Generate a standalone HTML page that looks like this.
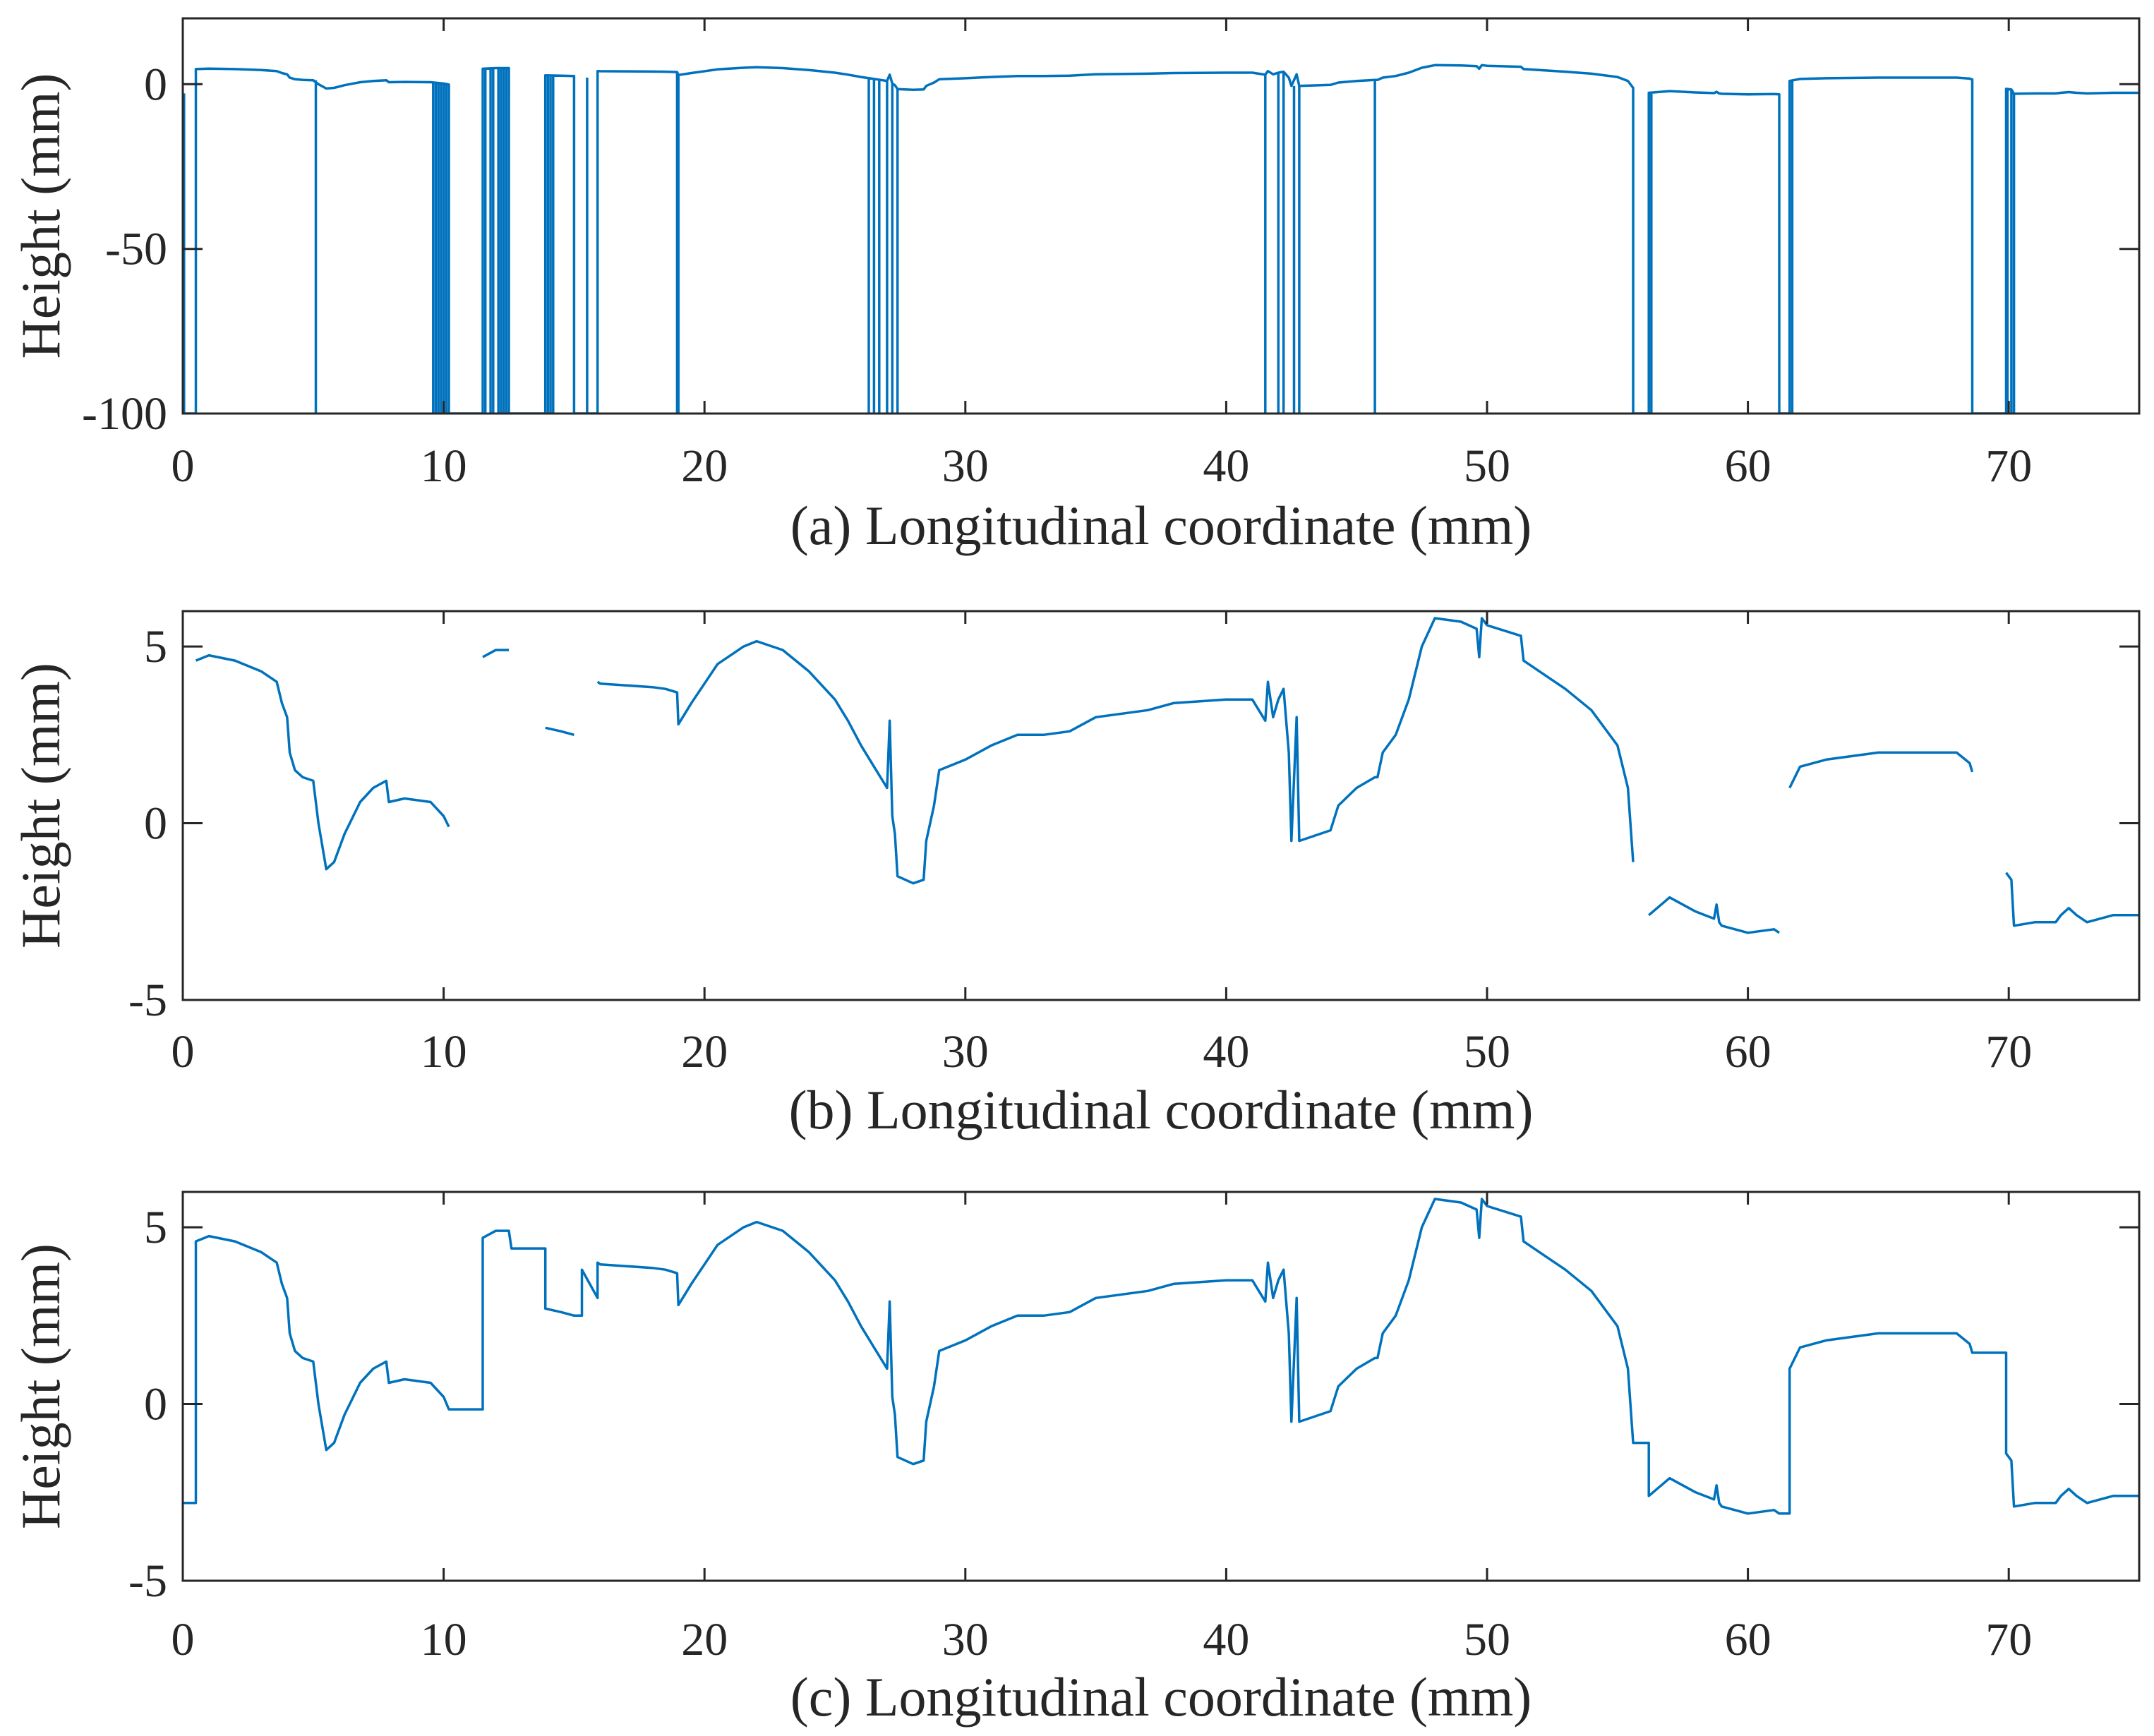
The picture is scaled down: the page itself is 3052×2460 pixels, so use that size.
<!DOCTYPE html>
<html><head><meta charset="utf-8"><style>
html,body{margin:0;padding:0;background:#fff}
svg{display:block}
text{font-family:"Liberation Serif",serif;fill:#262626}
</style></head><body>
<svg id="chart" width="3052" height="2460" viewBox="0 0 3052 2460" xmlns="http://www.w3.org/2000/svg"></svg>
<script>
// Longitudinal coordinate samples (mm); repeated x = vertical step
const xs = [0,0.5,0.5,1,2,3,3.6,3.8,4.0,4.1,4.3,4.6,5.0,5.2,5.5,5.8,6.2,6.8,7.3,7.8,7.9,8.5,9.5,10,10.2,11.5,11.5,12,12.5,12.6,13.9,13.9,14.5,15,15.2,15.3,15.3,15.9,15.9,16,17,18,18.5,18.95,19,19.5,20.5,21.5,22,23,24,25,25.5,26,26.5,27,27.1,27.2,27.3,27.4,28,28.4,28.5,28.8,29,30,31,32,33,34,35,37,38,40,41,41.5,41.6,41.8,42,42.2,42.4,42.5,42.7,42.8,44,44.3,45,45.7,45.8,46,46.5,47,47.5,48,49,49.6,49.7,49.8,50,51.3,51.4,52,53,54,55,55.4,55.6,56.2,56.2,57,58,58.7,58.8,58.9,59,60,61,61.2,61.6,61.6,62,63,65,67,68,68.5,68.6,69.9,69.9,70.1,70.2,71,71.8,72,72.3,72.6,73,74,75];
// Measured height (null = missing), panel (b)
const heightB = [-2.8,null,4.6,4.75,4.6,4.3,4.0,3.4,3.0,2.0,1.5,1.3,1.2,0,-1.3,-1.1,-0.3,0.6,1.0,1.2,0.6,0.7,0.6,0.2,-0.1,null,4.7,4.9,4.9,null,null,2.7,2.6,2.5,null,null,null,null,4.0,3.95,3.9,3.85,3.8,3.7,2.8,3.4,4.5,5.0,5.15,4.9,4.3,3.5,2.9,2.2,1.6,1.0,2.9,0.2,-0.3,-1.5,-1.7,-1.6,-0.5,0.5,1.5,1.8,2.2,2.5,2.5,2.6,3.0,3.2,3.4,3.5,3.5,2.9,4.0,3.0,3.5,3.8,2.0,-0.5,3.0,-0.5,-0.2,0.5,1.0,1.3,1.3,2.0,2.5,3.5,5.0,5.8,5.7,5.5,4.7,5.8,5.6,5.3,4.6,4.3,3.8,3.2,2.2,1.0,-1.1,null,-2.6,-2.1,-2.5,-2.7,-2.3,-2.8,-2.9,-3.1,-3.0,-3.1,null,1.0,1.6,1.8,2.0,2.0,2.0,1.7,1.45,null,-1.4,-1.6,-2.9,-2.8,-2.8,-2.6,-2.4,-2.6,-2.8,-2.6,-2.6];
// Interpolated height, panel (c)
const heightC = [-2.8,-2.8,4.6,4.75,4.6,4.3,4.0,3.4,3.0,2.0,1.5,1.3,1.2,0,-1.3,-1.1,-0.3,0.6,1.0,1.2,0.6,0.7,0.6,0.2,-0.15,-0.15,4.7,4.9,4.9,4.4,4.4,2.7,2.6,2.5,2.5,2.5,3.8,3.0,4.0,3.95,3.9,3.85,3.8,3.7,2.8,3.4,4.5,5.0,5.15,4.9,4.3,3.5,2.9,2.2,1.6,1.0,2.9,0.2,-0.3,-1.5,-1.7,-1.6,-0.5,0.5,1.5,1.8,2.2,2.5,2.5,2.6,3.0,3.2,3.4,3.5,3.5,2.9,4.0,3.0,3.5,3.8,2.0,-0.5,3.0,-0.5,-0.2,0.5,1.0,1.3,1.3,2.0,2.5,3.5,5.0,5.8,5.7,5.5,4.7,5.8,5.6,5.3,4.6,4.3,3.8,3.2,2.2,1.0,-1.1,-1.1,-2.6,-2.1,-2.5,-2.7,-2.3,-2.8,-2.9,-3.1,-3.0,-3.1,-3.1,1.0,1.6,1.8,2.0,2.0,2.0,1.7,1.45,1.45,-1.4,-1.6,-2.9,-2.8,-2.8,-2.6,-2.4,-2.6,-2.8,-2.6,-2.6];
// Dropout positions (raw data falls to -100), panel (a)
const dropouts = [0.05,5.1,9.6,9.7,9.8,9.9,10.0,10.1,11.6,11.8,11.9,12.1,12.2,12.3,12.4,12.5,14.0,14.1,14.2,15.5,15.9,18.95,19.0,26.3,26.5,26.7,27.0,27.2,27.4,41.5,42.0,42.2,42.6,42.8,45.7,56.3,61.7,69.95,70.1,70.2];
const xTicks = [0,10,20,30,40,50,60,70];
const yTicksA = [0,-50,-100];
const yTicksB = [-5,0,5];

const svg = document.getElementById('chart');
const NS = 'http://www.w3.org/2000/svg';
const L = 259, R = 3031;
function mk(tag, attrs, parent){const e=document.createElementNS(NS,tag);for(const k in attrs)e.setAttribute(k,attrs[k]);(parent||svg).appendChild(e);return e;}

const panels = [
 {id:'a', top:26, bottom:586, ymin:-100, ymax:20, yt:yTicksA, series:'a', lbl:'(a) Longitudinal coordinate (mm)', tickY:660, lblY:745},
 {id:'b', top:866, bottom:1417, ymin:-5, ymax:6, yt:yTicksB, series:'b', lbl:'(b) Longitudinal coordinate (mm)', tickY:1490, lblY:1573},
 {id:'c', top:1689, bottom:2240, ymin:-5, ymax:6, yt:yTicksB, series:'c', lbl:'(c) Longitudinal coordinate (mm)', tickY:2323, lblY:2405}
];

panels.forEach(p=>{
  const g = mk('g',{});
  
  
  const sx = v => (L + (v-0)/(75-0)*(R-L)).toFixed(1);
  const sy = v => (p.bottom - (v-p.ymin)/(p.ymax-p.ymin)*(p.bottom-p.top)).toFixed(1);
  let d='';
  if(p.series==='a'){
    let prevNull=false, prevX=null;
    for(let i=0;i<xs.length;i++){
      const v = heightB[i];
      if(i===0){ d+='M'+sx(xs[i])+','+sy(v===null?-100:v)+' '; prevNull=(v===null); prevX=xs[i]; continue; }
      if(v===null){
        if(!prevNull) d+='L'+sx(prevX)+','+sy(-100)+' ';
        d+='L'+sx(xs[i])+','+sy(-100)+' ';
        prevNull=true;
      } else {
        if(prevNull) d+='L'+sx(xs[i])+','+sy(-100)+' ';
        d+='L'+sx(xs[i])+','+sy(v)+' ';
        prevNull=false;
      }
      prevX=xs[i];
    }
    dropouts.forEach(x=>{
      let j=0;while(j<xs.length-1 && xs[j+1]<=x)j++;
      const v = heightB[j]===null ? 2 : heightB[j];
      d += 'M'+sx(x)+','+sy(v)+' L'+sx(x)+','+sy(-100)+' ';
    });
  } else {
    const arr = p.series==='b'?heightB:heightC;
    let pen=false;
    for(let i=0;i<xs.length;i++){
      if(arr[i]===null){pen=false;continue;}
      d += (pen?'L':'M')+sx(xs[i])+','+sy(arr[i])+' ';
      pen=true;
    }
  }
  const clip = mk('clipPath',{id:'clip'+p.id},g);
  mk('rect',{x:L,y:p.top,width:R-L,height:p.bottom-p.top},clip);
  const path = mk('path',{d:d,fill:'none',stroke:'#0072BD','stroke-width':3.5,'stroke-linejoin':'round','clip-path':'url(#clip'+p.id+')'},g);
  
  
  const box = mk('rect',{x:L,y:p.top,width:R-L,height:p.bottom-p.top,fill:'none',stroke:'#262626','stroke-width':3},g);
  
  
  xTicks.forEach(t=>{
    const x=sx(t);
    mk('line',{x1:x,x2:x,y1:p.bottom,y2:p.bottom-18,stroke:'#262626','stroke-width':3},g);
    mk('line',{x1:x,x2:x,y1:p.top,y2:p.top+18,stroke:'#262626','stroke-width':3},g);
    const tx = mk('text',{x:x,y:p.tickY+22,'font-size':66,'text-anchor':'middle',fill:'#404040'},g);
    tx.textContent=t;
    
    
  });
  p.yt.forEach(t=>{
    const y=sy(t);
    mk('line',{x1:L,x2:L+28,y1:y,y2:y,stroke:'#262626','stroke-width':3},g);
    mk('line',{x1:R,x2:R-28,y1:y,y2:y,stroke:'#262626','stroke-width':3},g);
    const ty = mk('text',{x:L-22,y:+y+22,'font-size':66,'text-anchor':'end',fill:'#404040'},g);
    ty.textContent=t;
    
    
  });
  const xl = mk('text',{x:(L+R)/2,y:p.lblY+26,'font-size':78,'text-anchor':'middle'},g);
  xl.textContent=p.lbl;
  
  
  const cy=(p.top+p.bottom)/2;
  const yl = mk('text',{x:0,y:0,'font-size':78,'text-anchor':'middle',transform:'translate(84,'+cy+') rotate(-90)'},g);
  yl.textContent='Height (mm)';
  
  
});
</script>
</body></html>
